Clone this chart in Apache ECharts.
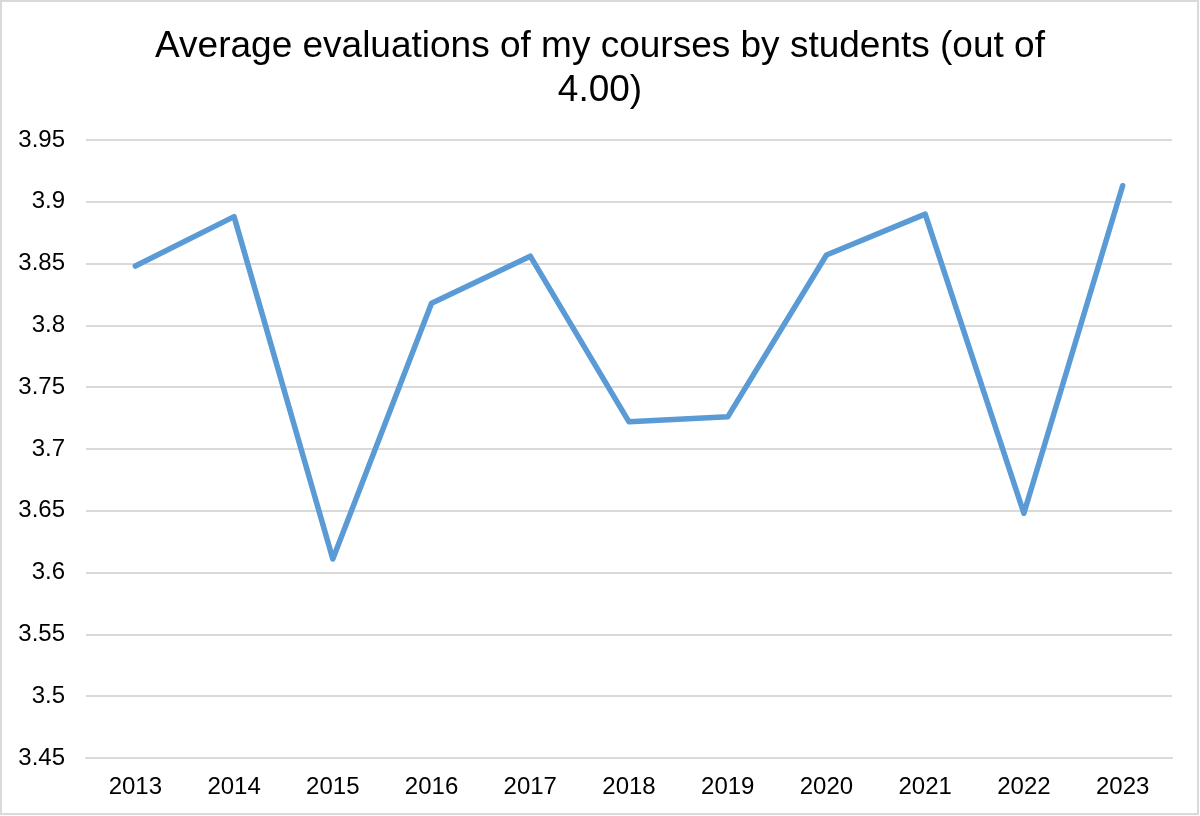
<!DOCTYPE html>
<html>
<head>
<meta charset="utf-8">
<script src="https://cdn.jsdelivr.net/npm/echarts@6/dist/echarts.min.js"></script>
<style>
html,body{margin:0;padding:0;background:#fff;}
#chart{width:1200px;height:816px;}
</style>
</head>
<body>
<div id="chart"></div>
<script>
const titleText = "Average evaluations of my courses by students (out of\n4.00)";
const years = ["2013","2014","2015","2016","2017","2018","2019","2020","2021","2022","2023"];
const evaluations = [3.848, 3.888, 3.611, 3.818, 3.856, 3.722, 3.726, 3.857, 3.890, 3.648, 3.913];
const yMin = 3.45, yMax = 3.95, yStep = 0.05;

const chart = echarts.init(document.getElementById('chart'), null, {renderer: 'canvas'});
chart.setOption({
  backgroundColor: '#ffffff',
  animation: false,
  title: {
    text: titleText,
    left: 'center',
    top: 20,
    textStyle: {
      fontFamily: 'Liberation Sans, Arial, sans-serif',
      fontSize: 37,
      fontWeight: 'normal',
      color: '#000000',
      lineHeight: 44
    }
  },
  graphic: [{
    type: 'rect',
    shape: {x: 1, y: 1, width: 1197, height: 813},
    style: {fill: 'none', stroke: '#d9d9d9', lineWidth: 2},
    silent: true
  }],
  grid: {left: 86, right: 28, top: 140, bottom: 58, containLabel: false},
  xAxis: {
    type: 'category',
    data: years,
    boundaryGap: true,
    axisLine: {show: true, lineStyle: {color: '#d9d9d9', width: 2}},
    axisTick: {show: false},
    axisLabel: {
      color: '#000000',
      fontFamily: 'Liberation Sans, Arial, sans-serif',
      fontSize: 24,
      margin: 17
    }
  },
  yAxis: {
    type: 'value',
    min: yMin,
    max: yMax,
    interval: yStep,
    axisLine: {show: false},
    axisTick: {show: false},
    splitLine: {show: true, lineStyle: {color: '#d9d9d9', width: 2}},
    axisLabel: {
      color: '#000000',
      fontFamily: 'Liberation Sans, Arial, sans-serif',
      fontSize: 24,
      margin: 21,
      formatter: function (v) { return String(parseFloat(v.toFixed(2))); }
    }
  },
  series: [{
    type: 'line',
    data: evaluations,
    symbol: 'none',
    lineStyle: {color: '#5B9BD5', width: 5.5, cap: 'round', join: 'round'},
    itemStyle: {color: '#5B9BD5'}
  }]
});
</script>
</body>
</html>
